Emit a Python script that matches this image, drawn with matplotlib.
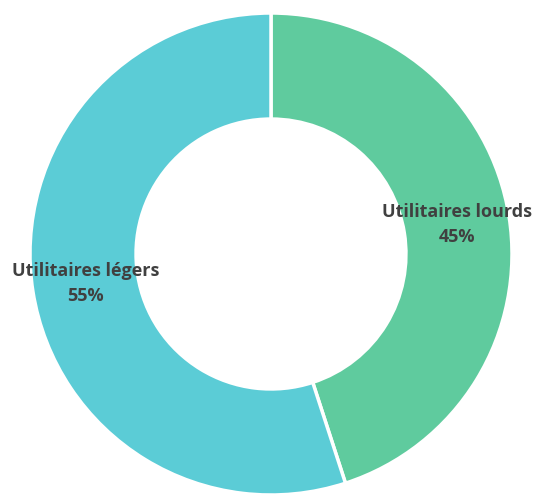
import matplotlib
matplotlib.use('Agg')
import matplotlib.pyplot as plt

# Vehicle type split
categories = ['Utilitaires lourds', 'Utilitaires légers']
shares = [45, 55]
colors = ['#5FCB9E', '#5BCCD6']

labels = [f'{c}\n{s}%' for c, s in zip(categories, shares)]

fig = plt.figure(figsize=(5.35, 4.94), dpi=100)
# axes sized so the ring fills the canvas
ax = fig.add_axes([30 / 535, -1 / 494, 482 / 535, 482 / 494])

wedges, texts = ax.pie(
    shares,
    labels=labels,
    colors=colors,
    startangle=90,
    counterclock=False,
    radius=1.0,
    labeldistance=0.78,
    wedgeprops=dict(width=0.44, edgecolor='white', linewidth=2.5),
    textprops=dict(fontsize=13, fontweight='bold', color='#404040',
                   family=['Open Sans', 'DejaVu Sans']),
)
for t in texts:
    t.set_ha('center')
    t.set_va('center')
    t.set_multialignment('center')
    t.set_linespacing(1.5)

ax.set_xlim(-1, 1)
ax.set_ylim(-1, 1)
ax.set_aspect('equal')
ax.axis('off')

fig.savefig('out.png', dpi=100)
